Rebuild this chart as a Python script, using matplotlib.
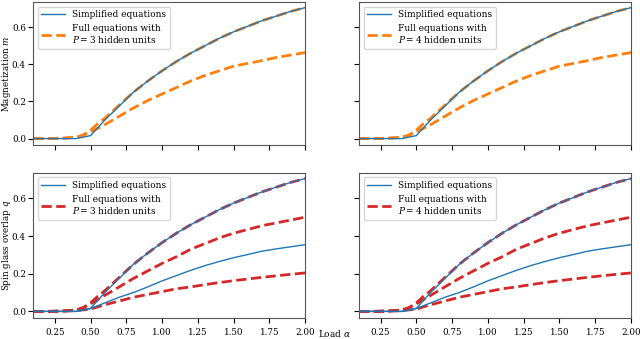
import matplotlib
matplotlib.use("Agg")
import matplotlib.pyplot as plt

# ---- data -------------------------------------------------------------------

alpha = [0.1, 0.2, 0.3, 0.4, 0.45, 0.5, 0.55, 0.6, 0.7, 0.8, 0.9, 1.0,
         1.1, 1.2, 1.3, 1.4, 1.5, 1.6, 1.7, 1.8, 1.9, 2.0]

# simplified equations (coarse grid, visible kink at 0.5)
alpha_simple = [0.1, 0.2, 0.3, 0.4, 0.5, 0.6, 0.7, 0.8, 0.9, 1.0,
                1.1, 1.2, 1.3, 1.4, 1.5, 1.6, 1.7, 1.8, 1.9, 2.0]
m_simple = [0.0, 0.0, 0.0, 0.0, 0.016, 0.10, 0.175, 0.25, 0.31, 0.365,
            0.415, 0.46, 0.50, 0.54, 0.575, 0.605, 0.635, 0.66, 0.685, 0.705]
q_simple_hi = m_simple
q_simple_lo = [0.0, 0.0, 0.0, 0.0, 0.015, 0.045, 0.075, 0.10, 0.13, 0.162,
               0.19, 0.218, 0.243, 0.265, 0.285, 0.302, 0.32, 0.332, 0.343, 0.354]

# full equations
m_full_hi = [0.0, 0.0, 0.002, 0.007, 0.02, 0.045, 0.08, 0.11, 0.18, 0.25, 0.31,
             0.365, 0.415, 0.46, 0.50, 0.54, 0.575, 0.605, 0.635, 0.66, 0.685, 0.705]
m_full_lo = [0.0, 0.0, 0.002, 0.007, 0.018, 0.035, 0.055, 0.075, 0.12, 0.165, 0.205,
             0.24, 0.275, 0.31, 0.34, 0.365, 0.39, 0.405, 0.42, 0.437, 0.45, 0.463]
q_full_hi = m_full_hi
q_full_mid = [0.0, 0.0, 0.002, 0.007, 0.02, 0.04, 0.062, 0.085, 0.13, 0.175, 0.215,
              0.255, 0.29, 0.33, 0.36, 0.39, 0.415, 0.435, 0.455, 0.47, 0.485, 0.50]
q_full_lo = [0.0, 0.0, 0.001, 0.004, 0.008, 0.012, 0.024, 0.035, 0.055, 0.075, 0.09,
             0.105, 0.12, 0.13, 0.142, 0.153, 0.163, 0.172, 0.181, 0.189, 0.197, 0.204]

hidden_units = [3, 4]

C_SIMPLE = "#1f77b4"
C_M_FULL = "#ff7f0e"
C_Q_FULL = "#d62728"

plt.rcParams.update({
    "font.family": "serif",
    "font.serif": ["DejaVu Serif"],
    "mathtext.fontset": "dejavuserif",
    "font.size": 6.5,
    "xtick.labelsize": 6.3,
    "ytick.labelsize": 6.3,
    "ytick.major.pad": 1.8,
})

fig = plt.figure(figsize=(6.4, 3.39), dpi=100)
lefts = [0.052, 0.561]
width = 0.425
ax_top = []
ax_bot = []
for i, P in enumerate(hidden_units):
    at = fig.add_axes([lefts[i], 0.572, width, 0.422])
    ab = fig.add_axes([lefts[i], 0.062, width, 0.428])
    ax_top.append(at)
    ax_bot.append(ab)

    at.plot(alpha_simple, m_simple, color=C_SIMPLE, lw=1.0,
            label="Simplified equations", zorder=3)
    at.plot(alpha, m_full_hi, color=C_M_FULL, lw=2.0, ls="--",
            label=f"Full equations with\n$P = {P}$ hidden units", zorder=2)
    at.plot(alpha, m_full_lo, color=C_M_FULL, lw=2.0, ls="--", zorder=2)

    ab.plot(alpha_simple, q_simple_hi, color=C_SIMPLE, lw=1.0,
            label="Simplified equations", zorder=3)
    ab.plot(alpha_simple, q_simple_lo, color=C_SIMPLE, lw=1.0, zorder=3)
    ab.plot(alpha, q_full_hi, color=C_Q_FULL, lw=2.0, ls="--",
            label=f"Full equations with\n$P = {P}$ hidden units", zorder=2)
    ab.plot(alpha, q_full_mid, color=C_Q_FULL, lw=2.0, ls="--", zorder=2)
    ab.plot(alpha, q_full_lo, color=C_Q_FULL, lw=2.0, ls="--", zorder=2)

    for ax in (at, ab):
        ax.set_xlim(0.1, 2.0)
        ax.set_ylim(-0.035, 0.735)
        ax.set_xticks([0.25, 0.5, 0.75, 1.0, 1.25, 1.5, 1.75, 2.0])
        ax.set_yticks([0.0, 0.2, 0.4, 0.6])
        ax.legend(loc="upper left", fontsize=6.5, handlelength=2.6)
        for s in ax.spines.values():
            s.set_color("#555555")
    at.tick_params(labelbottom=False)
    if i == 1:
        at.tick_params(labelleft=False)
        ab.tick_params(labelleft=False)

# y labels placed by hand near the left figure edge
fig.text(0.0, 0.572 + 0.422 / 2, "Magnetization $m$", rotation=90,
         ha="left", va="center", fontsize=6.3)
fig.text(0.0, 0.062 + 0.428 / 2, "Spin glass overlap $q$", rotation=90,
         ha="left", va="center", fontsize=6.3)
fig.text(0.497, 0.0, r"Load $\alpha$", ha="left", va="bottom", fontsize=6.5)

fig.savefig("out.png", dpi=100)
